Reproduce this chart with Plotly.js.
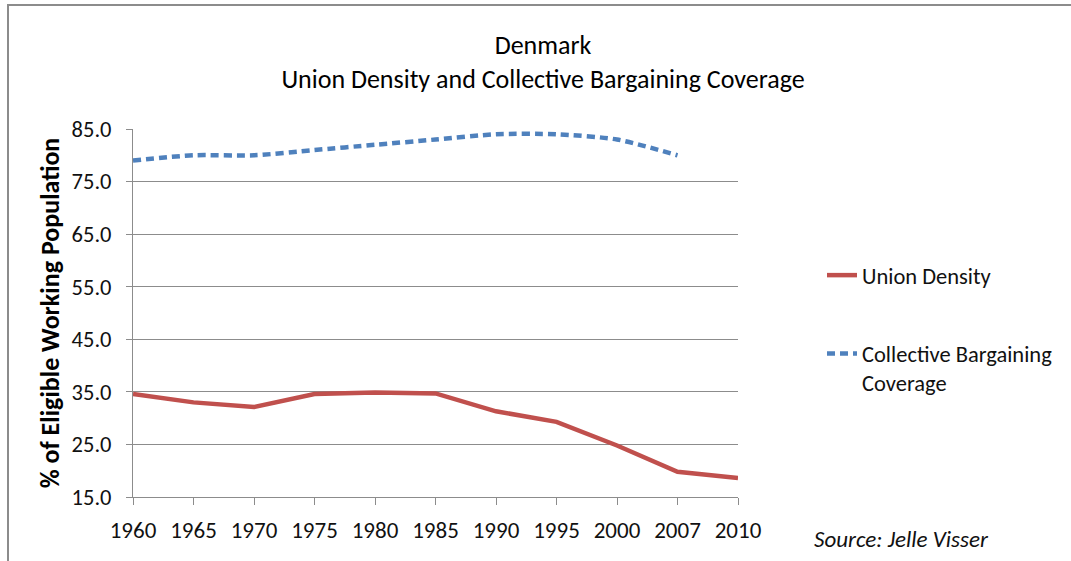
<!DOCTYPE html>
<html>
<head>
<meta charset="utf-8">
<script src="https://cdn.plot.ly/plotly-3.0.1.min.js"></script>
<style>
  html, body { margin: 0; padding: 0; background: #fff; }
  #frame { position: absolute; left: 7px; top: 4px; width: 1100px; height: 600px;
           border-left: 2px solid #8c8c8c; border-top: 2px solid #8c8c8c; pointer-events: none; }
  #chart { position: absolute; left: 0; top: 0; width: 1071px; height: 561px; }
</style>
</head>
<body>
<div id="chart"></div>
<div id="frame"></div>
<script>
const years = ["1960","1965","1970","1975","1980","1985","1990","1995","2000","2007","2010"];
const unionDensity = [34.6, 33.0, 32.1, 34.6, 34.9, 34.7, 31.3, 29.3, 24.8, 19.8, 18.6];
const bargainingCoverage = [79, 80, 80, 81, 82, 83, 84, 84, 83, 80, null];
const yTicks = [15, 25, 35, 45, 55, 65, 75, 85];

const FONT = "Carlito, 'Liberation Sans Narrow', 'Noto Sans', sans-serif";
const L = 133, R = 333, T = 129, B = 64, W = 1071, H = 561;
const plotW = W - L - R, plotH = H - T - B;

const traces = [
  {
    x: years, y: unionDensity, type: 'scatter', mode: 'lines',
    name: 'Union Density', legendgroup: 'a',
    line: { color: '#C0504D', width: 4.5, shape: 'linear' }
  },
  {
    x: years, y: bargainingCoverage, type: 'scatter', mode: 'lines',
    name: 'Collective Bargaining<br>Coverage', legendgroup: 'b',
    line: { color: '#4F81BD', width: 4.5, dash: '8px,5px', shape: 'spline', smoothing: 0.7 },
    connectgaps: false
  }
];

const layout = {
  width: W, height: H,
  paper_bgcolor: '#ffffff', plot_bgcolor: '#ffffff',
  margin: { l: L, r: R, t: T, b: B, autoexpand: false },
  font: { family: FONT, size: 22, color: '#111' },
  title: {
    text: 'Denmark<br>Union Density and Collective Bargaining Coverage',
    x: 543 / W, xanchor: 'center', xref: 'container',
    y: 1 - 54 / H, yanchor: 'top', yref: 'container',
    font: { family: FONT, size: 26, color: '#000' }
  },
  xaxis: {
    type: 'category', range: [0, 10], automargin: false,
    showgrid: false, showline: true, linecolor: '#8c8c8c', linewidth: 1,
    ticks: 'outside', ticklen: 7, tickcolor: '#8c8c8c', ticklabelstandoff: 5,
    tickfont: { family: FONT, size: 23, color: '#111' },
    fixedrange: true, zeroline: false
  },
  yaxis: {
    range: [15, 85], tickvals: yTicks, tickformat: '.1f', automargin: false,
    showgrid: true, gridcolor: '#8c8c8c', gridwidth: 1,
    showline: true, linecolor: '#8c8c8c', linewidth: 1,
    ticks: 'outside', ticklen: 6, tickcolor: '#8c8c8c', ticklabelstandoff: 10,
    tickfont: { family: FONT, size: 22.5, color: '#111' },
    zeroline: false, fixedrange: true,
    title: { text: '<b>% of Eligible Working Population</b>', standoff: 4,
             font: { family: FONT, size: 26, color: '#000' } }
  },
  showlegend: true,
  legend: {
    x: (822 - L) / plotW, xanchor: 'left',
    y: (H - B - 254) / plotH, yanchor: 'top', valign: 'top',
    bgcolor: 'rgba(0,0,0,0)', borderwidth: 0,
    traceorder: 'grouped', tracegroupgap: 46, itemwidth: 30,
    font: { family: FONT, size: 22.5, color: '#111' }
  },
  annotations: [
    { text: '<i>Source: Jelle Visser</i>', xref: 'paper', yref: 'paper',
      x: (812 - L) / plotW, xanchor: 'left',
      y: -(523 - (H - B)) / plotH, yanchor: 'top', showarrow: false,
      font: { family: FONT, size: 23, color: '#111' } }
  ]
};

Plotly.newPlot('chart', traces, layout, { displayModeBar: false, staticPlot: true });
</script>
</body>
</html>
